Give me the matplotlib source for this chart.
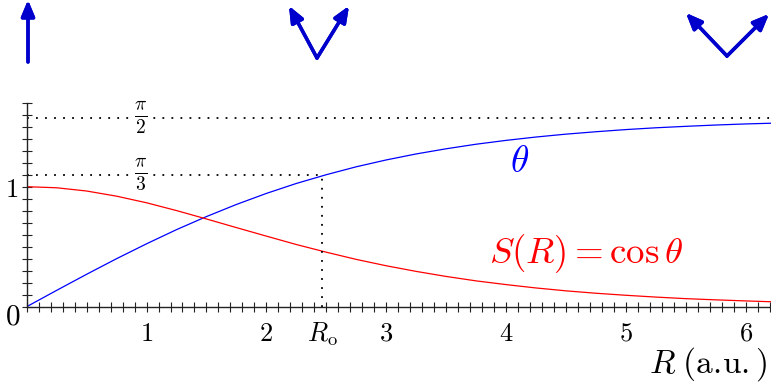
import matplotlib
matplotlib.use("Agg")
import matplotlib.pyplot as plt
from matplotlib.ticker import MultipleLocator

plt.rcParams["mathtext.fontset"] = "cm"
plt.rcParams["font.family"] = "serif"

# values
R = [0.0, 0.25, 0.5, 0.75, 1.0, 1.25, 1.5, 1.75, 2.0, 2.25, 2.5, 2.75, 3.0,
     3.25, 3.5, 3.75, 4.0, 4.25, 4.5, 4.75, 5.0, 5.25, 5.5, 5.75, 6.0, 6.25]
theta = [0.0, 0.136, 0.270, 0.400, 0.524, 0.642, 0.751, 0.852, 0.944, 1.027,
         1.100, 1.166, 1.223, 1.273, 1.316, 1.354, 1.386, 1.414, 1.438, 1.458,
         1.476, 1.491, 1.503, 1.514, 1.523, 1.530]
S = [1.0, 0.991, 0.964, 0.921, 0.866, 0.801, 0.731, 0.659, 0.588, 0.518,
     0.454, 0.394, 0.341, 0.294, 0.252, 0.215, 0.184, 0.156, 0.132, 0.112,
     0.095, 0.080, 0.067, 0.057, 0.048, 0.040]

R_o = 2.465
theta_o = 1.097
half_pi = 1.571

x_ticks = [1, 2, R_o, 3, 4, 5, 6]
x_labels = ["$1$", "$2$", r"$R_{\rm o}$", "$3$", "$4$", "$5$", "$6$"]

# spin arrows drawn above the plot (figure pixels: start, end)
spin_arrows = [
    ((28, 327), (28, 389)),
    ((317, 331), (289, 383)),
    ((317, 331), (349, 383)),
    ((727, 333), (686, 376)),
    ((727, 333), (769, 375)),
]

fig = plt.figure(figsize=(7.71, 3.89), dpi=100)
ax = fig.add_axes([0.0346, 0.2116, 0.9654, 0.5244])

ax.plot(R, theta, color="#0000FF", lw=0.9)
ax.plot(R, S, color="#FF0000", lw=0.9)

dots = (0, (1.0, 4.0))
ax.axhline(half_pi, color="black", lw=1.3, ls=dots)
ax.plot([0, R_o], [theta_o, theta_o], color="black", lw=1.3, ls=dots)
ax.plot([R_o, R_o], [0, theta_o], color="black", lw=1.3, ls=dots)

box = dict(facecolor="white", edgecolor="none", pad=0.5)
ax.text(0.951, half_pi, r"$\frac{\pi}{2}$", fontsize=20, ha="center",
        va="center", bbox=box)
ax.text(0.951, theta_o, r"$\frac{\pi}{3}$", fontsize=20, ha="center",
        va="center", bbox=box)

ax.text(4.116, 1.125, r"$\theta$", color="#0000FF", fontsize=27,
        ha="center", va="baseline")
ax.text(4.667, 0.364, r"$S(R) = \cos\theta$", color="#FF0000", fontsize=26.5,
        ha="center", va="baseline")

ax.set_xlim(0, 6.21)
ax.set_ylim(0, 1.7)
for side in ["top", "right"]:
    ax.spines[side].set_visible(False)
for side in ["left", "bottom"]:
    ax.spines[side].set_color("#222222")
    ax.spines[side].set_linewidth(1.0)

ax.set_xticks(x_ticks, labels=x_labels)
ax.set_yticks([1], labels=["$1$"])
ax.xaxis.set_minor_locator(MultipleLocator(0.1))
ax.yaxis.set_minor_locator(MultipleLocator(0.1))
ax.xaxis.remove_overlapping_locs = False
ax.yaxis.remove_overlapping_locs = False
ax.tick_params(which="major", length=0, labelsize=19)
ax.tick_params(axis="x", which="major", pad=10)
ax.tick_params(axis="y", which="major", pad=6)
ax.tick_params(which="minor", direction="inout", length=6.5, width=0.8,
               color="#222222")

fig.text(12.5 / 771, 1 - 316.7 / 389, "$0$", fontsize=21, ha="center",
         va="center")
fig.text(768 / 771, 1 - 373 / 389, r"$R\;(\mathrm{a.\!u.})$", fontsize=24,
         ha="right", va="baseline")

for start, end in spin_arrows:
    fig.add_artist(plt.annotate(
        "", xy=end, xytext=start, xycoords="figure pixels",
        textcoords="figure pixels",
        arrowprops=dict(arrowstyle="-|>,head_length=0.6,head_width=0.25",
                        color="#0000CC", lw=2.5, mutation_scale=16,
                        shrinkA=0, shrinkB=0)))

fig.savefig("out.png", dpi=100)
